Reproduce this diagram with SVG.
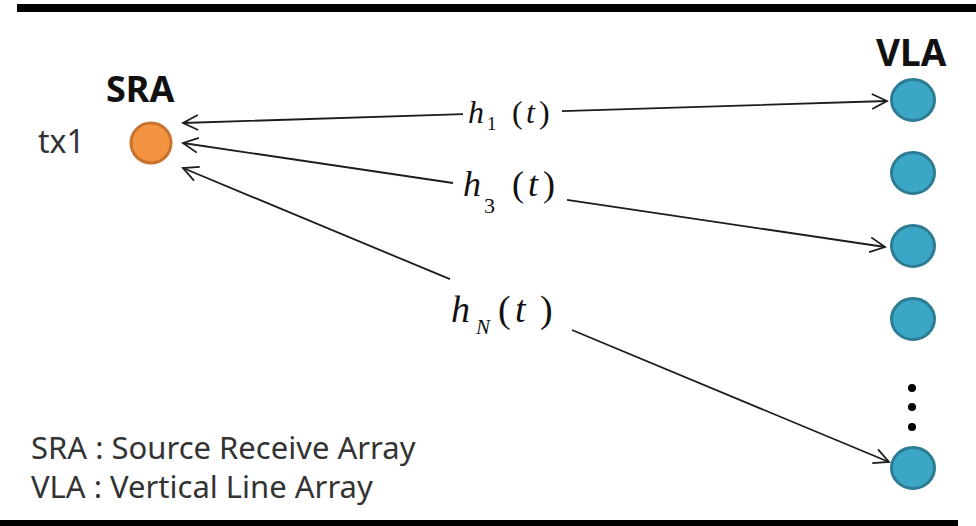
<svg xmlns="http://www.w3.org/2000/svg" width="976" height="526" viewBox="0 0 976 526">
<style>
.bar{fill:#000}
.sans{font-family:"Noto Sans","Open Sans","Liberation Sans",sans-serif;fill:#333}
.bold{font-family:"Noto Sans","Open Sans","Liberation Sans",sans-serif;font-weight:bold;fill:#111}
.math{font-family:"Liberation Serif","Times New Roman",serif;fill:#111}
.it{font-style:italic}
.conn{fill:none;stroke:#1c1c1c;stroke-width:1.8}
.src{fill:#F39443;stroke:#C7722E;stroke-width:3}
.rcv{fill:#3BA6C6;stroke:#2C7C93;stroke-width:3}
.dot{fill:#000}
</style>
<defs>
<marker id="chev" viewBox="-18 -10 20 20" refX="0" refY="0" markerWidth="20" markerHeight="20" markerUnits="userSpaceOnUse" orient="auto-start-reverse">
<path d="M-15,-7.5 L0,0 L-15,7.5" fill="none" stroke="#1c1c1c" stroke-width="1.8"/>
</marker>
</defs>
<rect class="bar" x="17" y="4" width="959" height="8"/>
<rect class="bar" x="0" y="520" width="958" height="6"/>

<g id="sra">
<text class="bold" x="106" y="102" font-size="36">SRA</text>
<text class="sans" x="38" y="153" font-size="32">tx1</text>
<circle class="src" cx="151" cy="143" r="20"/>
</g>

<g id="vla">
<text class="bold" x="876" y="66" font-size="37">VLA</text>
<ellipse class="rcv" cx="913" cy="100" rx="21.5" ry="20.5"/>
<ellipse class="rcv" cx="913" cy="173" rx="21.5" ry="20.5"/>
<ellipse class="rcv" cx="913" cy="246" rx="21.5" ry="20.5"/>
<ellipse class="rcv" cx="913" cy="319" rx="21.5" ry="20.5"/>
<circle class="dot" cx="912" cy="388" r="4"/>
<circle class="dot" cx="912" cy="407" r="4"/>
<circle class="dot" cx="912" cy="427" r="4"/>
<ellipse class="rcv" cx="913" cy="468" rx="21.5" ry="20.5"/>
</g>

<g id="connectors">
<path class="conn" d="M183,123 L463,114.2 M562,111.2 L887,101" marker-start="url(#chev)" marker-end="url(#chev)"/>
<path class="conn" d="M183,143 L453,183 M567,199.9 L885,247" marker-start="url(#chev)" marker-end="url(#chev)"/>
<path class="conn" d="M183,168 L450,279.2 M572,330 L889,462" marker-start="url(#chev)" marker-end="url(#chev)"/>
</g>

<g id="labels">
<text class="math" font-size="32"><tspan class="it" x="468" y="123">h</tspan><tspan x="487" y="130" font-size="19">1</tspan><tspan x="512" y="123">(</tspan><tspan class="it" x="526" y="123">t</tspan><tspan x="539" y="123">)</tspan></text>
<text class="math" font-size="36"><tspan class="it" x="463" y="196">h</tspan><tspan x="484" y="213" font-size="22">3</tspan><tspan x="512" y="196">(</tspan><tspan class="it" x="528" y="196">t</tspan><tspan x="543" y="196">)</tspan></text>
<text class="math" font-size="38"><tspan class="it" x="451" y="322">h</tspan><tspan class="it" x="476" y="334" font-size="21">N</tspan><tspan x="498" y="322">(</tspan><tspan class="it" x="515" y="322">t</tspan><tspan x="540" y="322">)</tspan></text>
</g>

<g id="legend">
<text class="sans" x="31" y="459" font-size="31">SRA : Source Receive Array</text>
<text class="sans" x="31" y="498" font-size="31">VLA : Vertical Line Array</text>
</g>
</svg>
